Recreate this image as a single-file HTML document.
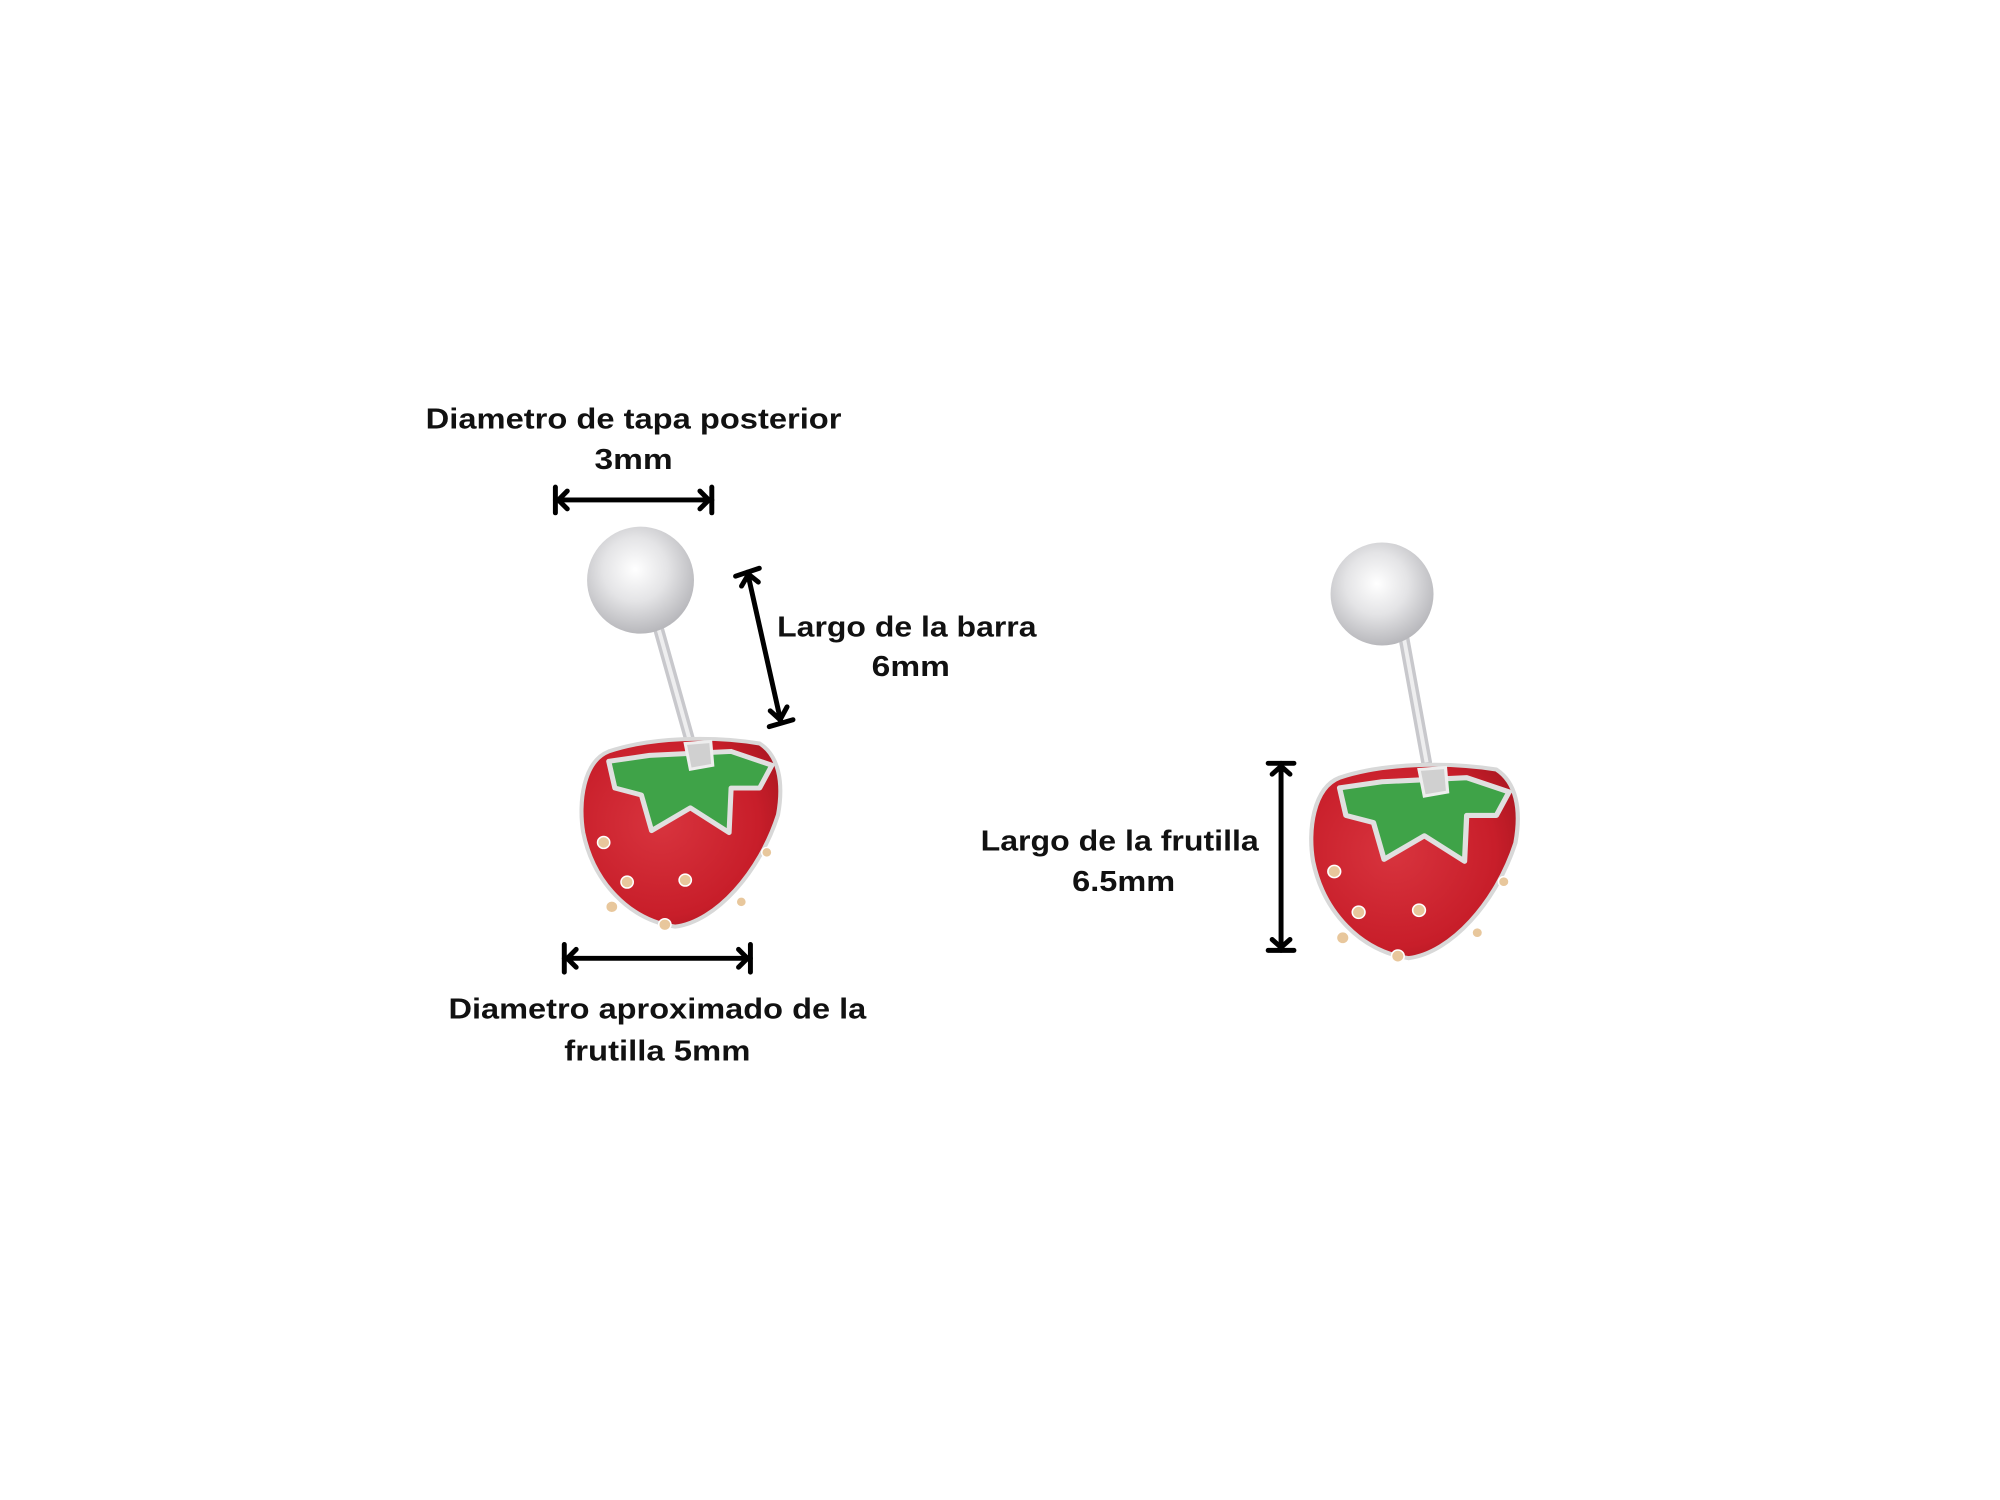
<!DOCTYPE html>
<html><head><meta charset="utf-8"><style>
html,body{margin:0;padding:0;background:#fff;width:2000px;height:1500px;overflow:hidden}
svg{display:block}
text{font-family:"Liberation Sans",sans-serif;font-weight:bold;font-size:29px;fill:#111;text-anchor:middle}
</style></head><body>
<svg width="2000" height="1500" viewBox="0 0 2000 1500" xmlns="http://www.w3.org/2000/svg">
<defs>
<radialGradient id="ball" cx="0.45" cy="0.4" r="0.6">
<stop offset="0" stop-color="#ffffff"/><stop offset="0.5" stop-color="#e4e4e6"/><stop offset="1" stop-color="#b8b8bc"/>
</radialGradient>
<radialGradient id="red" cx="0.4" cy="0.45" r="0.7">
<stop offset="0" stop-color="#d8343e"/><stop offset="0.7" stop-color="#c81e2a"/><stop offset="1" stop-color="#a81620"/>
</radialGradient>
<g id="berry">
<path d="M30,18 C5,28 0,70 5,100 C15,150 50,188 95,195 C135,190 178,140 196,82 C202,48 196,22 178,10 C130,2 70,4 30,18 Z" fill="url(#red)" stroke="#d8d8d8" stroke-width="4"/>
<path d="M30,28 L70,22 L150,18 L190,32 L178,55 L150,55 L148,100 L110,75 L72,98 L62,62 L36,55 Z" fill="#3fa348" stroke="#e0e0e0" stroke-width="5" stroke-linejoin="round"/>
<path d="M105,10 L130,8 L132,32 L110,36 Z" fill="#d0d0d0" stroke="#eee" stroke-width="3"/>
<g fill="#e8c79c" stroke="#fff" stroke-width="1.5">
<circle cx="25" cy="110" r="6"/><circle cx="48" cy="150" r="6"/><circle cx="33" cy="175" r="6"/>
<circle cx="85" cy="193" r="6"/><circle cx="105" cy="148" r="6"/><circle cx="160" cy="170" r="5"/><circle cx="185" cy="120" r="5"/>
</g>
</g>
</defs>
<g transform="scale(0.99)">
<line x1="664" y1="631" x2="696" y2="745" stroke="#c8c8cc" stroke-width="11" stroke-linecap="round"/>
<line x1="664" y1="631" x2="696" y2="745" stroke="#eeeeef" stroke-width="4"/>
<circle cx="647" cy="586" r="54" fill="url(#ball)"/>
<use href="#berry" transform="translate(584,741) scale(1.03,1.0)"/>

<line x1="1418" y1="644" x2="1441" y2="770" stroke="#c8c8cc" stroke-width="11" stroke-linecap="round"/>
<line x1="1418" y1="644" x2="1441" y2="770" stroke="#eeeeef" stroke-width="4"/>
<circle cx="1396" cy="600" r="52" fill="url(#ball)"/>
<use href="#berry" transform="translate(1321,767) scale(1.07,1.03)"/>

<g stroke="#000" stroke-width="5" fill="none" stroke-linecap="round" stroke-linejoin="round">
<line x1="561" y1="505" x2="719" y2="505"/>
<line x1="561" y1="492" x2="561" y2="518"/><line x1="719" y1="492" x2="719" y2="518"/>
<polyline points="573,496 564,505 573,514"/><polyline points="707,496 716,505 707,514"/>
<line x1="570" y1="968" x2="758" y2="968"/>
<line x1="570" y1="954" x2="570" y2="982"/><line x1="758" y1="954" x2="758" y2="982"/>
<polyline points="582,959 573,968 582,977"/><polyline points="746,959 755,968 746,977"/>
<line x1="755" y1="578" x2="789" y2="730"/>
<line x1="743" y1="582" x2="767" y2="574"/><line x1="777" y1="734" x2="801" y2="727"/>
<polyline points="749,592 756,580 766,588"/><polyline points="778,718 788,727 795,714"/>
<line x1="1294" y1="771" x2="1294" y2="960"/>
<line x1="1281" y1="771" x2="1307" y2="771"/><line x1="1281" y1="960" x2="1307" y2="960"/>
<polyline points="1285,782 1294,774 1303,782"/><polyline points="1285,949 1294,957 1303,949"/>
</g>

<text x="640" y="433" textLength="420" lengthAdjust="spacingAndGlyphs">Diametro de tapa posterior</text>
<text x="640" y="474" textLength="79" lengthAdjust="spacingAndGlyphs">3mm</text>
<text x="916" y="643" textLength="262" lengthAdjust="spacingAndGlyphs">Largo de la barra</text>
<text x="920" y="683" textLength="79" lengthAdjust="spacingAndGlyphs">6mm</text>
<text x="664" y="1029" textLength="422" lengthAdjust="spacingAndGlyphs">Diametro aproximado de la</text>
<text x="664" y="1071" textLength="188" lengthAdjust="spacingAndGlyphs">frutilla 5mm</text>
<text x="1131" y="859" textLength="281" lengthAdjust="spacingAndGlyphs">Largo de la frutilla</text>
<text x="1135" y="900" textLength="104" lengthAdjust="spacingAndGlyphs">6.5mm</text>
</g>
</svg>
</body></html>
